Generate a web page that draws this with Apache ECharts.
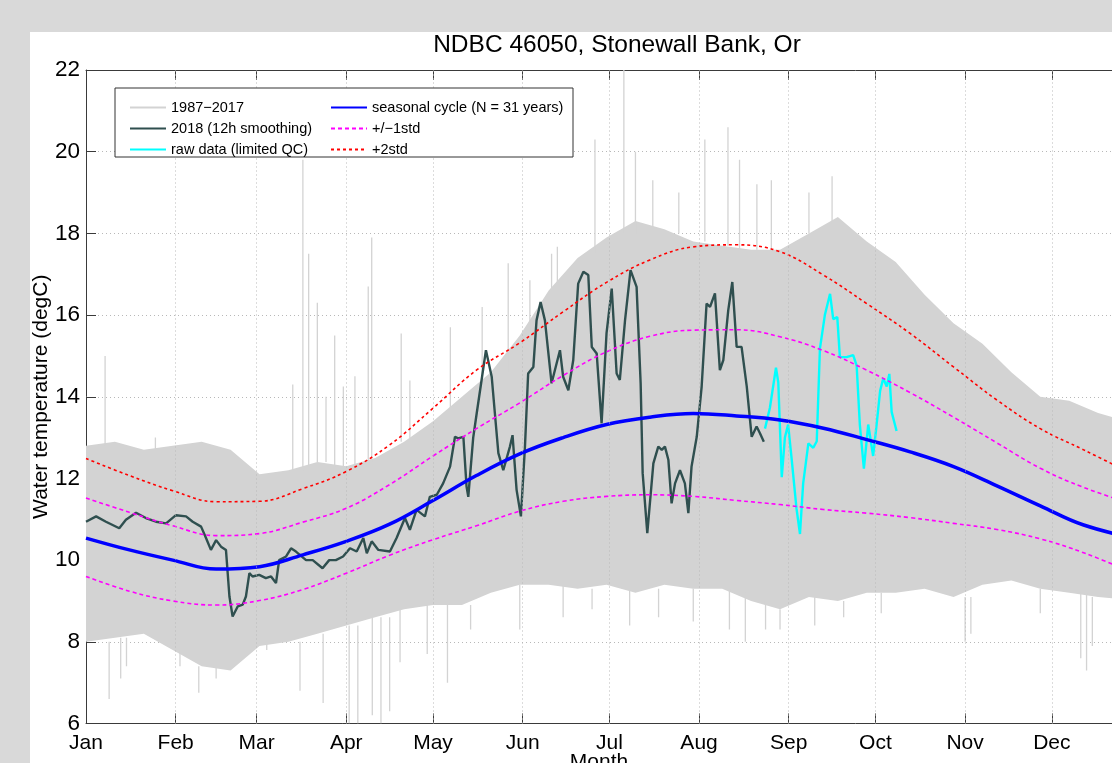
<!DOCTYPE html>
<html><head><meta charset="utf-8">
<script src="https://cdn.jsdelivr.net/npm/echarts@6/dist/echarts.min.js"></script>
<style>html,body{margin:0;padding:0;background:#d9d9d9}#c{width:1112px;height:763px}</style>
</head><body><div id="c"></div>
<script>
const FONT = '"Liberation Sans", Arial, Helvetica, sans-serif';
// x axis: day of year (the figure is cropped on the right, just past 20 Dec)
const monthDays = [0,31,59,90,120,151,181,212,243,273,304,334];
const monthLabels = ['Jan','Feb','Mar','Apr','May','Jun','Jul','Aug','Sep','Oct','Nov','Dec'];
const xVisibleMax = 354.8;

// climatology curves (day, value)
const stdDays   = [0,15,30,45,60,75,90,105,120,135,150,165,180,195,210,225,240,255,270,285,300,315,330,345,365];
const seasonal  = [10.54,10.25,10.0,9.78,9.84,10.13,10.46,10.88,11.46,12.07,12.6,13.0,13.32,13.5,13.59,13.53,13.43,13.23,12.95,12.65,12.29,11.82,11.33,10.86,10.5];
const plus1std  = [11.52,11.17,10.84,10.6,10.65,10.93,11.27,11.85,12.55,13.22,13.85,14.52,15.1,15.48,15.63,15.64,15.47,15.13,14.65,14.1,13.5,12.87,12.25,11.78,11.3];
const minus1std = [9.6,9.24,9.0,8.9,9.01,9.28,9.68,10.12,10.5,10.84,11.2,11.44,11.56,11.6,11.56,11.46,11.36,11.24,11.15,11.04,10.9,10.75,10.52,10.18,9.6];
const plus2std  = [12.49,12.07,11.7,11.43,11.44,11.75,12.17,12.82,13.72,14.65,15.32,16.08,16.8,17.35,17.67,17.72,17.55,16.98,16.28,15.55,14.73,13.92,13.22,12.7,12.0];

// 1987-2017 envelope of the dense grey cloud
const bandDays  = [0,10,20,30,40,50,60,70,80,90,100,110,120,130,140,150,160,170,180,190,200,210,220,230,240,250,260,270,280,290,300,310,320,330,340,350,365];
const bandUpper = [12.8,12.9,12.7,12.8,12.9,12.7,12.1,12.2,12.4,12.3,12.5,12.9,13.4,14.0,14.6,15.5,16.6,17.4,17.9,18.3,18.1,17.8,17.7,17.6,17.6,18.0,18.4,17.8,17.3,16.5,15.8,15.3,14.6,14.0,13.9,13.6,13.3];
const bandLower = [8.0,8.1,8.2,7.8,7.4,7.3,7.9,8.0,8.2,8.4,8.6,8.8,8.9,8.9,9.2,9.4,9.4,9.3,9.4,9.2,9.4,9.3,9.3,9.0,8.8,9.1,9.0,9.2,9.2,9.3,9.1,9.4,9.5,9.3,9.2,9.1,9.0];
// isolated excursions of the grey cloud: [day, low, high]
const spikes = [
 [6.6,12.8,15.0],[8,6.6,8.0],[12,7.1,8.1],[14,7.4,8.1],[24,12.7,13.0],[32.5,7.4,7.8],[39,6.75,7.4],[45,7.1,7.4],
 [62.5,7.8,8.0],[71.5,12.2,14.3],[74,6.8,8.0],[75,12.2,19.8],[77,12.3,17.5],[80,12.4,16.3],[82,6.5,8.2],[83,12.4,14.0],
 [86,12.3,15.5],[89,12.3,14.25],[91,6.0,8.4],[93,12.3,14.5],[94,6.0,8.4],[97.6,12.4,16.7],[98.8,12.4,17.9],[99,6.2,8.6],
 [102,6.0,8.6],[105,6.3,8.6],[109,12.9,15.55],[108.6,7.5,8.8],[112,12.9,14.4],[118,7.7,8.9],[125,7.0,8.9],[126,13.4,15.7],
 [133,8.3,8.9],[137,14.0,16.2],[146,14.6,17.27],[150,8.3,9.4],[153.5,15.3,16.85],[161,16.0,17.5],[163,16.0,17.67],
 [165,8.6,9.4],[175,8.8,9.3],[176,17.5,20.3],[186,18.0,22.0],[188,8.4,9.4],[190,18.0,20.0],[196,18.0,19.3],[198,8.6,9.3],
 [205,18.0,19.0],[210,8.5,9.3],[214,17.8,20.3],[222,17.7,20.6],[222.5,8.3,9.3],[226,17.6,19.8],[228,8.0,9.2],[232,17.6,19.2],
 [235,8.3,9.0],[237,17.5,19.3],[240,8.3,8.8],[250,18.0,19.0],[252,8.4,9.1],[258,18.3,19.4],[262,8.6,9.0],[275,8.7,9.2],
 [304,8.0,9.1],[306,8.2,9.1],[330,8.7,9.3],[344,7.6,9.2],[346,7.3,9.2],[348,7.9,9.1]
];

// 2018, 12h smoothing
const obsDays = [0,3.5,6.9,11.5,13.8,17.3,20.7,24.2,27.7,31.1,34.6,36.9,39.8,41.5,43.2,45,46.7,48.4,49.6,50.7,52.5,54.2,55.3,56.5,57.6,59.9,62.2,64,65.7,66.8,69.2,70.9,72.6,76.1,78.4,81.8,84.1,86.4,88.9,91.3,93.6,95.9,97.1,98.8,101.1,105.1,107.4,110.3,112,114.3,117.2,118.9,121.3,123.5,125.9,127.6,128.7,130.5,131.6,132.2,133.9,135.1,136.8,138.3,140.3,141.4,142.6,144.3,146.6,147.5,148.9,150.4,151.8,152.9,154.7,155.8,157.2,158.7,161,163.9,165,166.8,168.5,170.2,172,173.7,174.9,176.6,178.3,180,181.8,183.5,184.6,186.4,188.3,190.4,191.8,192.5,194.1,196.2,197.9,199.1,200.2,201.4,202.5,203.7,205.4,207.1,208.3,209.4,211.2,212.9,214.6,215.8,217.5,219.2,220.4,222.1,223.5,225,226.7,228.5,230.2,231.9,233.1,234.4];
const obsVals = [10.94,11.07,10.94,10.78,10.99,11.16,11.03,10.94,10.9,11.1,11.07,10.94,10.82,10.54,10.25,10.49,10.33,10.25,9.11,8.62,8.87,8.91,9.11,9.68,9.6,9.64,9.56,9.6,9.44,10.0,10.09,10.29,10.21,10.0,10.0,9.8,10.0,10.0,10.09,10.29,10.21,10.54,10.17,10.46,10.25,10.21,10.54,11.03,10.74,11.23,11.07,11.55,11.6,11.88,12.29,13.02,12.98,13.02,11.8,11.55,13.0,13.59,14.41,15.14,14.49,13.59,12.62,12.2,12.78,13.06,11.72,11.07,12.78,14.57,14.73,15.87,16.32,15.87,14.33,15.14,14.49,14.16,14.9,16.77,17.06,16.98,15.22,15.06,13.35,15.55,16.65,14.57,14.41,15.87,17.1,16.69,14.33,12.13,10.66,12.37,12.78,12.7,12.78,12.45,11.39,11.88,12.2,11.88,11.15,12.29,13.02,14.25,16.28,16.2,16.53,14.65,14.9,16.12,16.81,15.22,15.22,14.25,13.02,13.27,13.1,12.9];

// raw data (limited QC)
const rawDays = [234.8,236.5,238.6,239.4,240.6,241.7,242.8,244,245.7,246.9,248,249.8,251.5,252.7,253.8,255.5,257.3,258.4,259.8,260.7,263,265.3,266.5,267.6,269,270.5,272.2,273.4,274.6,275.7,276.9,277.8,278.6,280.3];
const rawVals = [13.22,13.73,14.71,14.35,12.03,13.01,13.32,12.49,11.26,10.64,11.88,12.86,12.75,12.91,15.18,16.0,16.52,15.9,15.95,14.97,14.97,15.02,14.76,13.32,12.24,13.32,12.55,13.32,14.14,14.45,14.25,14.56,13.63,13.16];

const zip = (a, b) => a.map((d, i) => [d, b[i]]);

const chart = echarts.init(document.getElementById('c'), null, {renderer: 'canvas'});
const axisColor = '#3a3a3a';
const gridColor = '#b8b8b8';
const txt = {color: '#000', fontFamily: FONT};
const legendCommon = {orient: 'vertical', top: 95, itemWidth: 36, itemHeight: 14, itemGap: 6, z: 12,
  selectedMode: false, itemStyle: {opacity: 0}, textStyle: Object.assign({fontSize: 14.5}, txt)};

chart.setOption({
  backgroundColor: '#d9d9d9',
  animation: false,
  title: {
    text: 'NDBC 46050, Stonewall Bank, Or',
    left: 612, top: 28, textAlign: 'center',
    textStyle: {fontSize: 24.5, fontWeight: 'normal', color: '#000', fontFamily: FONT}
  },
  graphic: [
    {type: 'rect', z: -10, shape: {x: 30, y: 32, width: 1082, height: 731}, style: {fill: '#fff'}},
    {type: 'rect', z: 9, shape: {x: 115, y: 88, width: 458, height: 69}, style: {fill: '#fff', stroke: '#333', lineWidth: 1}}
  ],
  legend: [
    Object.assign({data: ['1987\u22122017', '2018 (12h smoothing)', 'raw data (limited QC)'], left: 124}, legendCommon),
    Object.assign({data: ['seasonal cycle (N = 31 years)', '+/\u22121std', '+2std'], left: 325}, legendCommon)
  ],
  grid: {left: 86, top: 70, right: 0, bottom: 39.5, containLabel: false, outerBoundsMode: 'none'},
  xAxis: [
    {type: 'value', min: 0, max: xVisibleMax, position: 'bottom',
     name: 'Month', nameLocation: 'middle', nameGap: 28, nameMoveOverlap: false,
     nameTextStyle: Object.assign({fontSize: 21}, txt),
     axisLine: {show: true, lineStyle: {color: axisColor, width: 1}},
     axisTick: {show: true, inside: true, length: 10, customValues: monthDays, lineStyle: {color: axisColor}},
     axisLabel: Object.assign({customValues: monthDays, fontSize: 21, margin: 9,
       formatter: v => monthLabels[monthDays.indexOf(v)] || ''}, txt),
     splitLine: {show: false}},
    {type: 'value', min: 0, max: xVisibleMax, position: 'top',
     axisLine: {show: true, lineStyle: {color: axisColor, width: 1}},
     axisTick: {show: true, inside: true, length: 10, customValues: monthDays, lineStyle: {color: axisColor}},
     axisLabel: {show: false}, splitLine: {show: false}}
  ],
  yAxis: [{
    type: 'value', min: 6, max: 22, interval: 2,
    name: 'Water temperature (degC)', nameLocation: 'middle', nameGap: 34, nameRotate: 90, nameMoveOverlap: false,
    nameTextStyle: Object.assign({fontSize: 21}, txt),
    axisLine: {show: true, lineStyle: {color: axisColor, width: 1}},
    axisTick: {show: true, inside: true, length: 10, lineStyle: {color: axisColor}},
    axisLabel: Object.assign({fontSize: 22.5, margin: 6}, txt),
    splitLine: {show: true, lineStyle: {color: gridColor, type: [1, 3], width: 1}}
  }],
  series: [
    {type: 'line', name: 'grid', data: [], z: 0, silent: true,
     markLine: {silent: true, symbol: 'none', label: {show: false},
       lineStyle: {color: gridColor, type: [1, 3], width: 1},
       data: monthDays.slice(1).map(d => ({xAxis: d}))}},
    {type: 'custom', name: 'cloud', z: 1, silent: true, clip: true, data: [[0, 10]],
     renderItem: (params, api) => {
       const pts = [];
       for (let i = 0; i < bandDays.length; i++) pts.push(api.coord([bandDays[i], bandUpper[i]]));
       for (let i = bandDays.length - 1; i >= 0; i--) pts.push(api.coord([bandDays[i], bandLower[i]]));
       return {type: 'polygon', shape: {points: pts}, style: {fill: '#d3d3d3'}};
     }},
    {type: 'custom', name: 'spikes', z: 1, silent: true, clip: true, data: spikes,
     encode: {x: 0, y: [1, 2]},
     renderItem: (params, api) => {
       const a = api.coord([api.value(0), api.value(1)]);
       const b = api.coord([api.value(0), api.value(2)]);
       return {type: 'line', shape: {x1: a[0], y1: a[1], x2: b[0], y2: b[1]}, style: {stroke: '#d3d3d3', lineWidth: 1.3}};
     }},
    {type: 'line', name: '1987\u22122017', data: [], symbol: 'none', lineStyle: {color: '#d3d3d3', width: 1}, itemStyle: {color: '#d3d3d3'}},
    {type: 'line', name: '2018 (12h smoothing)', data: zip(obsDays, obsVals), symbol: 'none', z: 3,
     lineStyle: {color: '#2f4f4f', width: 2.4}, itemStyle: {color: '#2f4f4f'}},
    {type: 'line', name: 'raw data (limited QC)', data: zip(rawDays, rawVals), symbol: 'none', z: 3,
     lineStyle: {color: '#00ffff', width: 2.4}, itemStyle: {color: '#00ffff'}},
    {type: 'line', name: 'seasonal cycle (N = 31 years)', data: zip(stdDays, seasonal), symbol: 'none', smooth: 0.4, z: 4,
     lineStyle: {color: '#0000ff', width: 3.5}, itemStyle: {color: '#0000ff'}},
    {type: 'line', name: '+/\u22121std', data: zip(stdDays, plus1std), symbol: 'none', smooth: 0.4, z: 4,
     lineStyle: {color: '#ff00ff', width: 1.6, type: [4, 3]}, itemStyle: {color: '#ff00ff'}},
    {type: 'line', name: '+/\u22121std', data: zip(stdDays, minus1std), symbol: 'none', smooth: 0.4, z: 4,
     lineStyle: {color: '#ff00ff', width: 1.6, type: [4, 3]}, itemStyle: {color: '#ff00ff'}},
    {type: 'line', name: '+2std', data: zip(stdDays, plus2std), symbol: 'none', smooth: 0.4, z: 4,
     lineStyle: {color: '#ff0000', width: 1.6, type: [3, 3]}, itemStyle: {color: '#ff0000'}}
  ]
});
</script>
</body></html>
